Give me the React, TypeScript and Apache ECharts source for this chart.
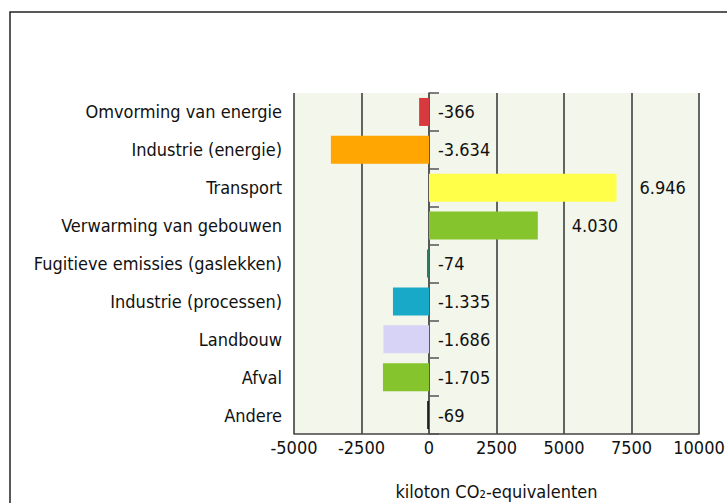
import React, { useEffect, useRef } from "react";
import * as echarts from "echarts";

// Emission change per sector (kiloton CO2-equivalent)
const categories: string[] = [
  "Omvorming van energie",
  "Industrie (energie)",
  "Transport",
  "Verwarming van gebouwen",
  "Fugitieve emissies (gaslekken)",
  "Industrie (processen)",
  "Landbouw",
  "Afval",
  "Andere",
];
const values: number[] = [-366, -3634, 6946, 4030, -74, -1335, -1686, -1705, -69];
const barColors: string[] = [
  "#d8393f",
  "#ffa602",
  "#ffff4a",
  "#85c42c",
  "#2b7d68",
  "#19a9c8",
  "#d6d3f6",
  "#85c42c",
  "#1e1e1e",
];
// extra space between a positive bar's end and its label
const labelGaps: number[] = [9, 9, 23, 34, 9, 9, 9, 9, 9];
const xTicks = { min: -5000, max: 10000, step: 2500 };
const axisTitle = "kiloton CO₂-equivalenten";

const FONT = "'DejaVu Sans Condensed', 'DejaVu Sans', sans-serif";
const INK = "#111";
const FS = 18;

const GRID = { left: 294, top: 93, width: 405, height: 341 };

// Dutch notation: dot as thousands separator
function fmt(v: number): string {
  const s = String(Math.abs(v)).replace(/\B(?=(\d{3})+(?!\d))/g, ".");
  return (v < 0 ? "-" : "") + s;
}

export default function App() {
  const ref = useRef<HTMLDivElement>(null);

  useEffect(() => {
    if (!ref.current) return;
    const chart = echarts.init(ref.current, undefined, { renderer: "svg" });

    // pixel distance from the plot's left edge to the zero line
    const zeroOffset = ((0 - xTicks.min) / (xTicks.max - xTicks.min)) * GRID.width;

    chart.setOption({
      animation: false,
      backgroundColor: "#ffffff",
      textStyle: { fontFamily: FONT },
      graphic: [
        {
          type: "rect",
          shape: { x: 10, y: 12, width: 740, height: 520 },
          style: { fill: "none", stroke: "#222", lineWidth: 1.5 },
          silent: true,
          z: -10,
        },
      ],
      grid: {
        ...GRID,
        outerBoundsMode: "none",
        containLabel: false,
        show: true,
        backgroundColor: "#f3f6ea",
        borderWidth: 0,
      },
      xAxis: {
        type: "value",
        min: xTicks.min,
        max: xTicks.max,
        interval: xTicks.step,
        name: axisTitle,
        nameLocation: "middle",
        nameGap: 48,
        nameTextStyle: { color: INK, fontSize: FS, fontFamily: FONT },
        axisLine: { show: true, lineStyle: { color: "#444", width: 1.5 } },
        axisTick: { show: false },
        axisLabel: {
          color: INK,
          fontSize: FS,
          margin: 4,
          fontFamily: FONT,
          formatter: (v: number) => String(v),
        },
        splitLine: { show: true, lineStyle: { color: "#333", width: 1.5 } },
      },
      yAxis: [
        {
          type: "category",
          data: categories,
          inverse: true,
          position: "left",
          axisLine: { show: false },
          axisTick: { show: false },
          axisLabel: { color: INK, fontSize: FS, margin: 12, fontFamily: FONT },
        },
        {
          // category axis drawn along the zero line, ticks pointing right
          type: "category",
          data: categories,
          inverse: true,
          position: "left",
          offset: -zeroOffset,
          axisLine: { show: true, onZero: false, lineStyle: { color: "#555", width: 1.5 } },
          axisTick: { show: true, inside: true, length: 10, lineStyle: { color: "#555", width: 1.5 } },
          axisLabel: { show: false },
        },
      ],
      series: [
        {
          type: "bar",
          yAxisIndex: 0,
          barWidth: 28,
          data: values.map((v, i) => ({ value: v, itemStyle: { color: barColors[i] } })),
          label: { show: false },
          z: 3,
        },
        {
          // value labels: right of zero for negative bars, right of the bar end otherwise
          type: "scatter",
          yAxisIndex: 0,
          symbolSize: 0,
          silent: true,
          itemStyle: { opacity: 1 },
          data: values.map((v, i) => ({
            value: [Math.max(v, 0), categories[i]],
            label: {
              show: true,
              position: "right",
              distance: labelGaps[i],
              formatter: fmt(v),
              color: INK,
              fontSize: FS,
              fontFamily: FONT,
            },
          })),
          z: 4,
        },
      ],
    });

    return () => chart.dispose();
  }, []);

  return (
    <div
      ref={ref}
      style={{ position: "fixed", left: 0, top: 0, width: 727, height: 503 }}
    />
  );
}
